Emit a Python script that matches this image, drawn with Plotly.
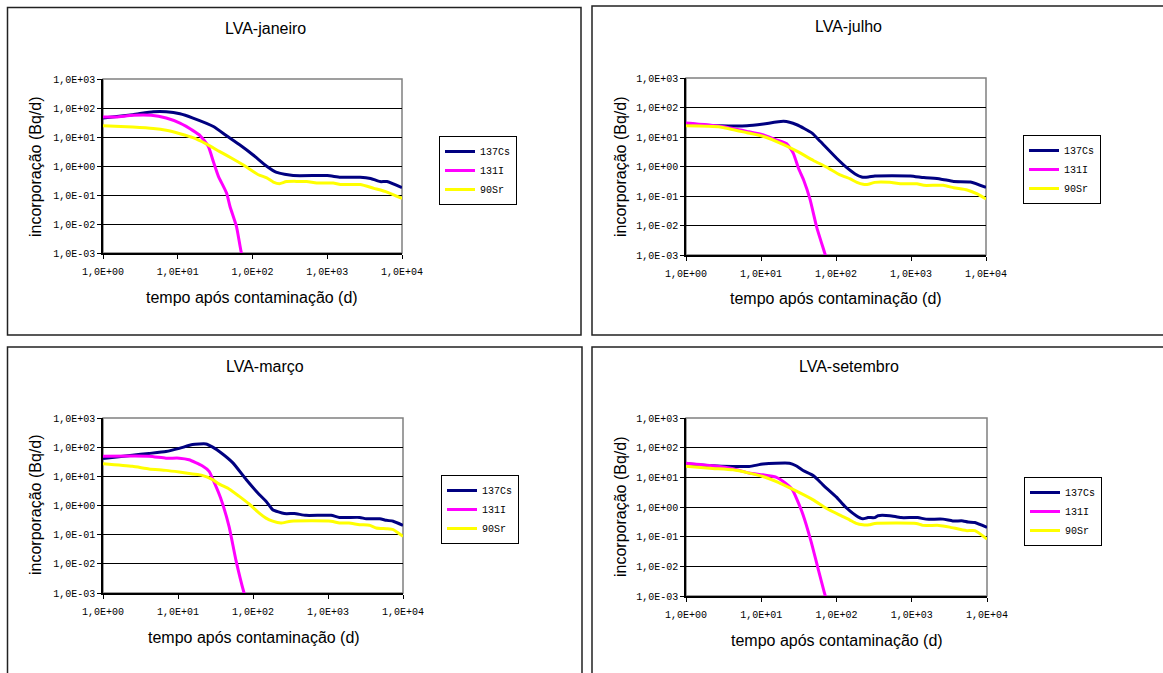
import plotly.graph_objects as go

W, H = 1163, 673

# ---------------- data (days, Bq/d) ----------------
# LVA-janeiro
jan_cs_x = [1, 2.5, 4.7, 7, 10.7, 16, 30, 45, 68, 102, 155, 210, 350, 1000, 1500, 2760, 3800, 5100, 6300, 10000]
jan_cs_y = [45, 59, 74, 74, 63, 45, 23, 11, 5.3, 2.4, 0.98, 0.6, 0.47, 0.47, 0.41, 0.41, 0.37, 0.29, 0.29, 0.18]
jan_i_x = [1, 1.5, 2.5, 4.4, 7, 10.7, 16, 20, 25.6, 30, 35, 45, 50, 61, 71, 80]
jan_i_y = [49, 49, 56, 56, 45, 30, 16.6, 11, 4.8, 1.4, 0.44, 0.117, 0.04, 0.0083, 0.001, 0.0004]
jan_sr_x = [1, 2.5, 4.7, 7, 10.7, 16, 24, 36, 55, 83, 120, 155, 190, 230, 285, 530, 720, 1200, 1500, 2760, 4200, 6300, 10000]
jan_sr_y = [24.5, 22, 19.6, 17, 13, 9.5, 5.8, 3.2, 1.74, 0.93, 0.5, 0.39, 0.28, 0.245, 0.29, 0.29, 0.26, 0.26, 0.23, 0.23, 0.17, 0.126, 0.076]

# LVA-julho
jul_cs_x = [1, 1.5, 2.85, 6.5, 10.8, 20, 30, 48, 62, 102, 138, 180, 220, 270, 330, 980, 1480, 2450, 3700, 6200, 10000]
jul_cs_y = [28, 26, 24, 24, 27.5, 34, 26, 13.5, 7, 1.9, 0.93, 0.56, 0.44, 0.44, 0.48, 0.48, 0.42, 0.38, 0.31, 0.30, 0.195]
jul_i_x = [1, 2.85, 6.5, 10.8, 16, 22, 27, 31.6, 37, 45, 55, 72, 80]
jul_i_y = [29.6, 23, 15.5, 11.8, 8, 5.9, 2.8, 0.87, 0.35, 0.078, 0.0092, 0.001, 0.0004]
jul_sr_x = [1, 2.85, 6.5, 10.8, 20, 30, 50, 75, 113, 155, 190, 230, 270, 330, 520, 720, 1200, 1480, 2700, 3700, 5600, 7500, 10000]
jul_sr_y = [24, 22, 14, 10.4, 5.5, 3.3, 1.6, 0.95, 0.52, 0.38, 0.29, 0.25, 0.25, 0.29, 0.29, 0.26, 0.26, 0.23, 0.23, 0.19, 0.16, 0.12, 0.08]

# LVA-março
mar_cs_x = [1, 2.46, 4.1, 6.9, 10.4, 15.6, 23.6, 29, 37, 54, 81, 121, 149, 183, 262, 356, 510, 1100, 1420, 2640, 3230, 4900, 6000, 7400, 10000]
mar_cs_y = [41, 53, 61, 71, 91, 123, 129, 100, 66, 29, 7.8, 2.4, 1.4, 0.72, 0.53, 0.53, 0.46, 0.46, 0.39, 0.39, 0.35, 0.35, 0.31, 0.29, 0.21]
mar_i_x = [1, 4.1, 6.9, 10.4, 14, 21, 26, 30, 37, 48, 59, 76, 85]
mar_i_y = [49, 49, 42, 42, 37, 23, 14.8, 6.7, 1.8, 0.19, 0.014, 0.001, 0.0004]
mar_sr_x = [1, 2.46, 4.1, 6.9, 10.4, 15.6, 21, 29, 35, 48, 65, 88, 121, 149, 183, 235, 320, 1100, 1420, 1900, 2640, 3570, 4400, 6000, 7400, 10000]
mar_sr_y = [27, 22, 18, 16, 14, 12, 10.8, 7.7, 5.5, 3.7, 2.1, 1.15, 0.55, 0.37, 0.29, 0.25, 0.29, 0.29, 0.25, 0.25, 0.22, 0.21, 0.17, 0.16, 0.15, 0.087]

# LVA-setembro
set_cs_x = [1, 2.26, 4.2, 6.9, 10.5, 15.7, 23.7, 29, 36, 49, 66, 100, 129, 183, 224, 262, 322, 355, 510, 720, 1200, 1550, 2600, 3500, 4800, 5600, 6900, 10000]
set_cs_y = [29, 24.6, 23.3, 23.3, 28, 30, 30, 24.6, 17, 11.5, 5.6, 2.15, 1.05, 0.51, 0.40, 0.44, 0.44, 0.51, 0.51, 0.44, 0.44, 0.39, 0.39, 0.34, 0.34, 0.31, 0.30, 0.205]
set_i_x = [1, 2.26, 4.2, 6.9, 10.5, 15.7, 21, 26, 30, 36, 46, 56, 71, 80]
set_i_y = [30, 24.6, 19.5, 13.9, 12.2, 10.2, 6.3, 3.8, 1.74, 0.54, 0.068, 0.0098, 0.001, 0.0004]
set_sr_x = [1, 2.26, 4.2, 6.9, 10.5, 16.5, 26, 49, 73, 109, 149, 183, 224, 272, 322, 1150, 1400, 2300, 3200, 5300, 6900, 10000]
set_sr_y = [23.5, 20, 17.9, 13.9, 10.7, 6.9, 4, 1.74, 0.91, 0.54, 0.37, 0.28, 0.25, 0.25, 0.28, 0.28, 0.24, 0.24, 0.21, 0.16, 0.16, 0.083]

series_names = ["137Cs", "131I", "90Sr"]
series_colors = ["#000080", "#FF00FF", "#FFFF00"]

x_tickvals = [1, 10, 100, 1000, 10000]
x_ticktext = ["1,0E+00", "1,0E+01", "1,0E+02", "1,0E+03", "1,0E+04"]
y_tickvals = [0.001, 0.01, 0.1, 1, 10, 100, 1000]
y_ticktext = ["1,0E-03", "1,0E-02", "1,0E-01", "1,0E+00", "1,0E+01", "1,0E+02", "1,0E+03"]

panel_titles = ["LVA-janeiro", "LVA-julho", "LVA-março", "LVA-setembro"]
panel_data = [
    [(jan_cs_x, jan_cs_y), (jan_i_x, jan_i_y), (jan_sr_x, jan_sr_y)],
    [(jul_cs_x, jul_cs_y), (jul_i_x, jul_i_y), (jul_sr_x, jul_sr_y)],
    [(mar_cs_x, mar_cs_y), (mar_i_x, mar_i_y), (mar_sr_x, mar_sr_y)],
    [(set_cs_x, set_cs_y), (set_i_x, set_i_y), (set_sr_x, set_sr_y)],
]

# ---------------- layout geometry (pixels) ----------------
plot_px = [(103, 402, 79, 253), (686, 986, 78, 255), (103, 403, 418, 593), (686, 987, 418, 596)]
title_px = [(265, 29), (848, 27), (265, 367), (849, 367)]
xtitle_px = [(252, 297), (836, 298), (254, 637), (837, 640)]
ytitle_px = [(35, 167), (620, 167), (35, 505), (620, 507)]
legend_px = [(439, 136), (1023, 135), (441, 475), (1024, 477)]

def px(x):
    return x / W

def py(y):
    return 1 - y / H

fig = go.Figure()
layout = dict(
    template="none",
    width=W, height=H, margin=dict(l=0, r=0, t=0, b=0, pad=0), autosize=False,
    paper_bgcolor="white", plot_bgcolor="white",
    font=dict(family="Liberation Sans, Arial", color="black"),
    annotations=[], shapes=[],
)

mono = "Liberation Mono, Courier New, monospace"

for i in range(4):
    sfx = "" if i == 0 else str(i + 1)
    xa, ya = "x" + sfx, "y" + sfx
    lg = "legend" + sfx
    x0, x1, y0, y1 = plot_px[i]
    for k, (xs, ys) in enumerate(panel_data[i]):
        fig.add_trace(go.Scatter(
            x=xs, y=ys, mode="lines", name=series_names[k],
            line=dict(color=series_colors[k], width=3, shape="spline", smoothing=0.5),
            xaxis=xa, yaxis=ya, legend=lg, showlegend=True,
        ))
    layout["xaxis" + sfx] = dict(
        type="log", range=[0, 4], domain=[px(x0), px(x1)], anchor=ya,
        tickvals=x_tickvals, ticktext=x_ticktext, automargin=False,
        tickfont=dict(family=mono, size=10, color="black"),
        ticks="outside", ticklen=4, tickcolor="black",
        showline=True, linecolor="black", linewidth=1.5,
        showgrid=False, zeroline=False, ticklabelstandoff=4,
    )
    layout["yaxis" + sfx] = dict(
        type="log", range=[-3, 3], domain=[py(y1), py(y0)], anchor=xa,
        tickvals=y_tickvals, ticktext=y_ticktext, automargin=False,
        tickfont=dict(family=mono, size=10, color="black"),
        ticks="outside", ticklen=4, tickcolor="black",
        showline=True, linecolor="black", linewidth=1.5,
        showgrid=True, gridcolor="black", gridwidth=1, zeroline=False,
    )
    lx, ly = legend_px[i]
    layout[lg] = dict(
        x=px(lx), y=py(ly), xanchor="left", yanchor="top",
        xref="paper", yref="paper",
        bordercolor="black", borderwidth=1, bgcolor="white",
        font=dict(family=mono, size=10, color="black"),
        itemwidth=30, tracegroupgap=0,
    )
    # gray plot-area frame (top & right)
    layout["shapes"].append(dict(
        type="rect", xref=xa + " domain", yref=ya + " domain",
        x0=0, x1=1, y0=0, y1=1, line=dict(color="#808080", width=1.5),
        layer="below",
    ))
    tx, ty = title_px[i]
    layout["annotations"].append(dict(
        text=panel_titles[i], x=px(tx), y=py(ty), xref="paper", yref="paper",
        showarrow=False, font=dict(size=16), xanchor="center", yanchor="middle",
    ))
    tx, ty = xtitle_px[i]
    layout["annotations"].append(dict(
        text="tempo após contaminação (d)", x=px(tx), y=py(ty), xref="paper", yref="paper",
        showarrow=False, font=dict(size=16), xanchor="center", yanchor="middle",
    ))
    tx, ty = ytitle_px[i]
    layout["annotations"].append(dict(
        text="incorporação (Bq/d)", x=px(tx), y=py(ty), xref="paper", yref="paper",
        showarrow=False, font=dict(size=16), xanchor="center", yanchor="middle",
        textangle=-90,
    ))

# panel frames
frames = [(7.5, 581, 7.5, 335), (592, 1175, 6, 335), (7.5, 582, 347, 690), (592, 1175, 347, 690)]
for (a, b, c, d) in frames:
    layout["shapes"].append(dict(
        type="rect", xref="paper", yref="paper",
        x0=px(a), x1=px(b), y0=py(d), y1=py(c),
        line=dict(color="#222222", width=1.5),
    ))

fig.update_layout(**layout)
fig.write_html(
    "out.html",
    config={"displayModeBar": False},
    post_script="document.body.style.margin='0';document.body.style.overflow='hidden';",
)
